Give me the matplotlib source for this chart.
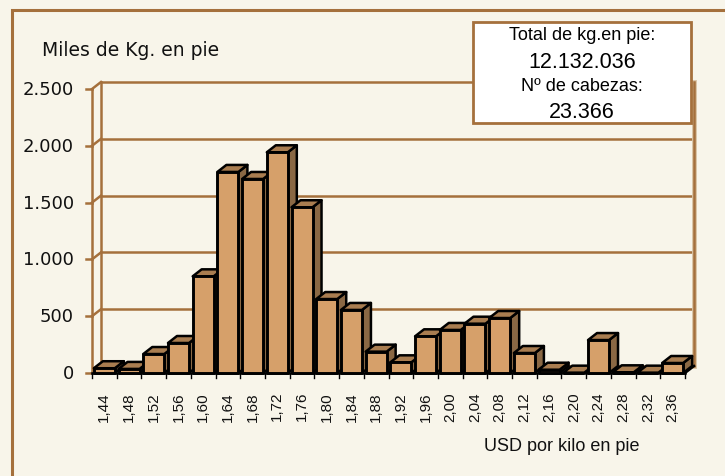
import matplotlib
matplotlib.use("Agg")
import matplotlib.pyplot as plt
from matplotlib.patches import Polygon, Rectangle
from matplotlib.transforms import ScaledTranslation

# datos: precio USD por kilo en pie vs miles de kg
precios = ["1,44", "1,48", "1,52", "1,56", "1,60", "1,64", "1,68", "1,72",
           "1,76", "1,80", "1,84", "1,88", "1,92", "1,96", "2,00", "2,04",
           "2,08", "2,12", "2,16", "2,20", "2,24", "2,28", "2,32", "2,36"]
miles_kg = [42, 36, 167, 264, 851, 1770, 1708, 1943,
            1459, 651, 555, 188, 94, 323, 379, 434,
            484, 176, 29, 3, 290, 6, 3, 88]
y_ticks = [0, 500, 1000, 1500, 2000, 2500]
y_tick_labels = ["0", "500", "1.000", "1.500", "2.000", "2.500"]
total_kg = "12.132.036"
n_cabezas = "23.366"

W, H = 725, 477
DPI = 100
bg = "#F8F5EA"
marron = "#A5703C"
frente = "#D6A06A"
techo = "#A97D50"
lado = "#8A6844"

fig = plt.figure(figsize=(W / DPI, H / DPI), dpi=DPI, facecolor=bg)

# marco exterior
fig.patches.append(Rectangle((12 / W, -0.1), 1.2, 1.1 - 11 / H,
                             transform=fig.transFigure, fill=False,
                             edgecolor=marron, lw=2.2, zorder=0))

ax_l, ax_r, ax_b, ax_t = 92, 685, 374, 90
ax = fig.add_axes([ax_l / W, 1 - ax_b / H, (ax_r - ax_l) / W, (ax_b - ax_t) / H])
ax.set_facecolor("none")
n = len(precios)
ax.set_xlim(-0.5, n - 0.5)
ax.set_ylim(0, 2500)
ax.axis("off")

# profundidad (px) del efecto 3D
dpx, dpy = 9, 7
depth = ScaledTranslation(dpx / DPI, dpy / DPI, fig.dpi_scale_trans)
back = ax.transData + depth
ddx = dpx / ((ax_r - ax_l) / n)
ddy = dpy / ((ax_b - ax_t) / 2500)

x0, x1 = -0.5, n - 0.5
# pared del fondo y lineas de division
for v in y_ticks:
    ax.plot([x0, x1], [v, v], color=marron, lw=1.8, transform=back,
            clip_on=False, zorder=1)
    ax.plot([x0, x0 + ddx], [v, v + ddy], color=marron, lw=1.8,
            clip_on=False, zorder=1)
    ax.plot([x0 - 0.25, x0], [v, v], color=marron, lw=1.8,
            clip_on=False, zorder=1)
ax.plot([x0, x0], [0, 2500], color=marron, lw=1.8, transform=back,
        clip_on=False, zorder=1)
ax.plot([x1, x1], [0, 2500], color="#D9C3A4", lw=3.5, transform=back,
        clip_on=False, zorder=1)
ax.plot([x1, x1], [0, 2500], color=marron, lw=1.8, transform=back,
        clip_on=False, zorder=1)
ax.plot([x0, x0], [0, 2500], color=marron, lw=1.8, clip_on=False, zorder=1)

# piso
ax.plot([x0, x1], [0, 0], color="black", lw=1.8, clip_on=False, zorder=2)
ax.plot([x1, x1 + ddx], [0, ddy], color="black", lw=1.8, clip_on=False, zorder=2)
for i in range(n + 1):
    ax.plot([i - 0.5, i - 0.5], [0, -45], color="black", lw=1.0,
            clip_on=False, zorder=2)

# barras 3D
bw = 0.85
for i, v in enumerate(miles_kg):
    xl, xr = i - bw / 2, i + bw / 2
    z = 3 + i * 3
    side = Polygon([(xr, 0), (xr + ddx, ddy), (xr + ddx, v + ddy), (xr, v)],
                   closed=True, facecolor=lado, edgecolor="black", lw=1.8,
                   joinstyle="round", clip_on=False, zorder=z)
    top = Polygon([(xl, v), (xl + ddx, v + ddy), (xr + ddx, v + ddy), (xr, v)],
                  closed=True, facecolor=techo, edgecolor="black", lw=1.8,
                  joinstyle="round", clip_on=False, zorder=z)
    front = Rectangle((xl, 0), bw, v, facecolor=frente, edgecolor="black",
                      lw=2.1, joinstyle="round", clip_on=False, zorder=z + 1)
    ax.add_patch(side)
    ax.add_patch(top)
    ax.add_patch(front)

# etiquetas eje y
for v, lab in zip(y_ticks, y_tick_labels):
    fig.text(74 / W, 1 - (ax_b - v * (ax_b - ax_t) / 2500) / H, lab,
             ha="right", va="center", fontsize=13, family="DejaVu Sans",
             color="#111111")

# etiquetas eje x
for i, lab in enumerate(precios):
    ax.annotate(lab, xy=(i, 0), xycoords="data", xytext=(0, -18),
                textcoords="offset pixels", rotation=90, ha="center",
                va="top", fontsize=11, family="Liberation Sans",
                color="#111111", annotation_clip=False)

fig.text(42 / W, 1 - 51 / H, "Miles de Kg. en pie", ha="left", va="center",
         fontsize=13.5, family="DejaVu Sans", color="#111111")
fig.text(562 / W, 1 - 447 / H, "USD por kilo en pie", ha="center",
         va="center", fontsize=13, family="Liberation Sans", color="#111111")

# recuadro de totales
fig.patches.append(Rectangle((473 / W, 1 - 124 / H), (691 - 473) / W,
                             (124 - 23) / H, transform=fig.transFigure,
                             facecolor="white", edgecolor=marron, lw=2.0,
                             zorder=50))
cx = 582 / W
fig.text(cx, 1 - 36 / H, "Total de kg.en pie:", ha="center", va="center",
         fontsize=13, family="Liberation Sans", zorder=51)
fig.text(cx, 1 - 62 / H, total_kg, ha="center", va="center",
         fontsize=15.5, family="Liberation Sans", zorder=51)
fig.text(cx, 1 - 87 / H, "Nº de cabezas:", ha="center", va="center",
         fontsize=13, family="Liberation Sans", zorder=51)
fig.text(cx, 1 - 113 / H, n_cabezas, ha="center", va="center",
         fontsize=15.5, family="Liberation Sans", zorder=51)

fig.savefig("out.png", dpi=DPI, facecolor=bg)
